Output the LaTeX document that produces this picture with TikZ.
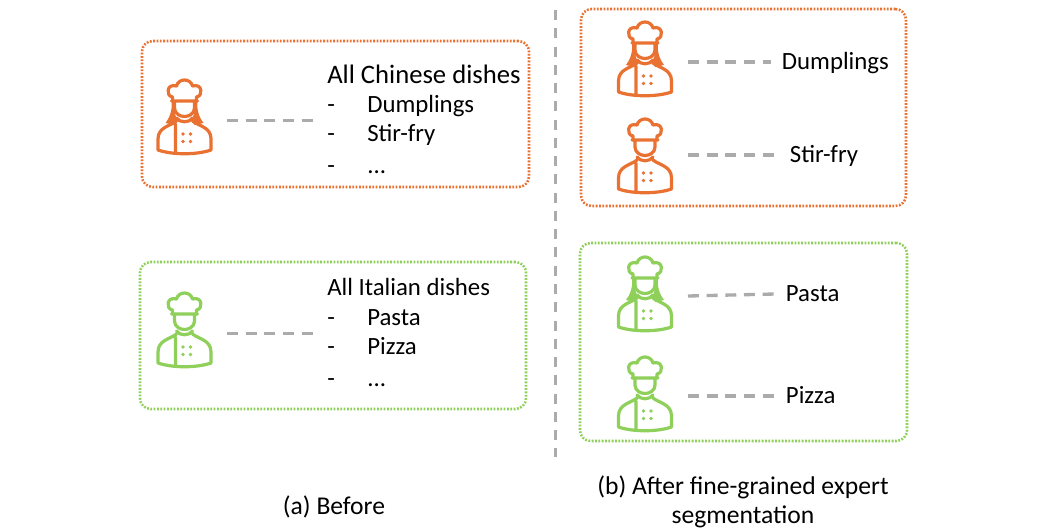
\documentclass[tikz,border=0pt]{standalone}
\usepackage{fontspec}
\setmainfont{Carlito}
\usepackage{xcolor}
\definecolor{chefor}{HTML}{E97132}
\definecolor{chefgr}{HTML}{8ED05A}
\definecolor{connc}{HTML}{ABABAB}

\begin{document}
\begin{tikzpicture}[
    x=0.75pt, y=-0.75pt,
    font=\fontsize{18.6pt}{21pt}\selectfont,
    orbox/.style={draw=chefor, line width=1.9pt, rounded corners=8pt, dash pattern=on 1.35pt off 1.15pt},
    grbox/.style={draw=chefgr, line width=1.9pt, rounded corners=8pt, dash pattern=on 1.35pt off 1.15pt},
    conn/.style={draw=connc, line width=2.5pt, dash pattern=on 8.2pt off 5.8pt},
    divline/.style={draw=connc, line width=2.4pt, dash pattern=on 7.5pt off 6.2pt},
    txt/.style={inner sep=0pt, anchor=west, text height=15pt, text depth=4pt},
    lab/.style={inner xsep=8pt, inner ysep=0pt, anchor=west, text height=15pt, text depth=4pt},
    captxt/.style={inner sep=0pt, align=center, font=\fontsize{19.2pt}{21.5pt}\selectfont},
    chefm/.pic={
      \draw[line width=2.4pt, line join=round, line cap=round]
        (-12,-15) -- (-12,-19) .. controls (-19,-20) and (-18,-33) .. (-8,-30)
        .. controls (-6,-38) and (6,-38) .. (8,-30)
        .. controls (18,-33) and (19,-20) .. (12,-19) -- (12,-15)
        (-13,-15) -- (13,-15)
        (-10,-15) -- (-10,-8) .. controls (-10,-2) and (-4,0.5) .. (0,0.5)
        .. controls (4,0.5) and (10,-2) .. (10,-8) -- (10,-15)
        (-8,2) .. controls (-5,7) and (5,7) .. (8,2)
        (-8,5) .. controls (-14,10) and (-26.5,11) .. (-26.5,23) -- (-26.5,34)
        .. controls (-12,39) and (12,39) .. (26.5,34) -- (26.5,23)
        .. controls (26.5,11) and (14,10) .. (8,5)
        (-9,8) -- (-9,37);
      \fill (-1.5,18) circle (1.9) (6,18) circle (1.9)
            (-1.5,25.5) circle (1.9) (6,25.5) circle (1.9);
    },
    chefw/.pic={
      \pic {chefm};
      \fill (-13,-14) .. controls (-12,-6) and (-15,2) .. (-19,7) -- (-10,9) -- (-7,3)
        .. controls (-9,1) and (-10,-3) .. (-10,-8) -- (-10,-14) -- cycle;
      \fill (13,-14) .. controls (12,-6) and (15,2) .. (19,7) -- (10,9) -- (7,3)
        .. controls (9,1) and (10,-3) .. (10,-8) -- (10,-14) -- cycle;
    },
  ]
  \useasboundingbox (0,0) rectangle (1050,532);

  %% ---- divider ----
  \coordinate (divtop) at (555.5,10);
  \coordinate (divbot) at (555.5,457);
  \draw[divline] (divtop) -- (divbot);

  %% ---- before ----
  \node[orbox, minimum width=290.25pt, minimum height=109.5pt, inner sep=0pt] (boxChinese) at (335.5,114) {};
  \node[grbox, minimum width=289.5pt, minimum height=110.25pt, inner sep=0pt] (boxItalian) at (333,335.5) {};

  \pic[chefor] (chefChinese) at (184.5,116) {chefw};
  \pic[chefgr] (chefItalian) at (184.5,329) {chefm};

  \node[txt, font=\fontsize{20pt}{21pt}\selectfont] (allCh) at (327,76) {All Chinese dishes};
  \node[txt] (dashA) at (327,105) {-};
  \node[txt] (dumpA) at (367,105) {Dumplings};
  \node[txt] (dashB) at (327,134) {-};
  \node[txt] (stirA) at (367,134) {Stir-fry};
  \node[txt] (dashC) at (327,166) {-};
  \node[txt] (dotsA) at (367,166) {...};

  \node[txt] (allIt) at (327,288) {All Italian dishes};
  \node[txt] (dashD) at (327,318) {-};
  \node[txt] (pastaA) at (367,318) {Pasta};
  \node[txt] (dashE) at (327,347) {-};
  \node[txt] (pizzaA) at (367,347) {Pizza};
  \node[txt] (dashF) at (327,379) {-};
  \node[txt] (dotsB) at (367,379) {...};

  \coordinate (cA0) at (227,120.5);
  \coordinate (cA1) at (313,120.5);
  \coordinate (cB0) at (227,333.5);
  \coordinate (cB1) at (313,333.5);
  \draw[conn] (cA0) -- (cA1);
  \draw[conn] (cB0) -- (cB1);

  %% ---- after ----
  \node[orbox, minimum width=243.75pt, minimum height=147.75pt, inner sep=0pt] (boxDump) at (743.5,107.5) {};
  \node[grbox, minimum width=245.25pt, minimum height=148.5pt, inner sep=0pt] (boxPasta) at (743.5,342) {};

  \pic[chefor] (chefDump) at (645,58) {chefw};
  \pic[chefor] (chefStir) at (645,155) {chefm};
  \pic[chefgr] (chefPasta) at (645,293) {chefw};
  \pic[chefgr] (chefPizza) at (645,393) {chefm};

  \node[lab] (dumpB) at (771,62) {Dumplings};
  \node[lab] (stirB) at (779,155) {Stir-fry};
  \node[lab] (pastaB) at (775,294) {Pasta};
  \node[lab] (pizzaB) at (775,396) {Pizza};

  \coordinate (cC) at (688,62);
  \coordinate (cD) at (688,155);
  \coordinate (cE) at (688,296);
  \coordinate (cF) at (688,396);
  \draw[conn] (cC) -- (dumpB.west);
  \draw[conn] (cD) -- (stirB.west);
  \draw[conn] (cE) -- (pastaB.west);
  \draw[conn] (cF) -- (pizzaB.west);

  %% ---- captions ----
  \node[captxt] (capA) at (334,507) {(a) Before};
  \node[captxt] (capB) at (743,502) {(b) After fine-grained expert\\segmentation};
\end{tikzpicture}
\end{document}
